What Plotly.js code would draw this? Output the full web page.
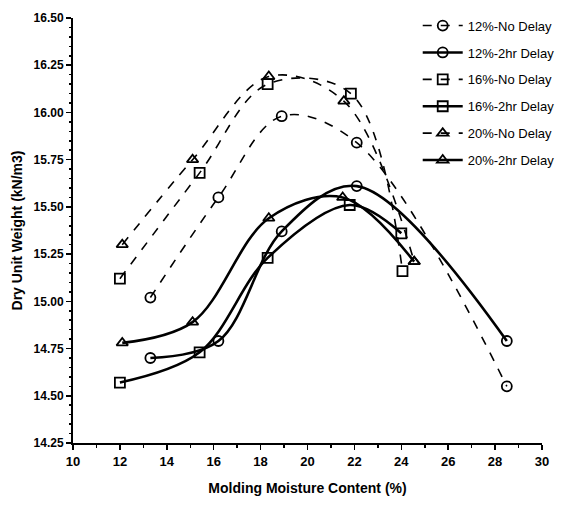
<!DOCTYPE html>
<html>
<head>
<meta charset="utf-8">
<script src="https://cdn.plot.ly/plotly-3.0.1.min.js"></script>
<style>html,body{margin:0;padding:0;background:#fff;}#chart{width:574px;height:505px;}</style>
</head>
<body>
<div id="chart"></div>
<script>
const seriesNames = ["12%-No Delay","12%-2hr Delay","16%-No Delay","16%-2hr Delay","20%-No Delay","20%-2hr Delay"];
const moist12 = [13.3, 16.2, 18.9, 22.1, 28.5];
const moist16 = [12.0, 15.4, 18.3, 21.85, 24.05];
const moist16d = [12.0, 15.4, 18.3, 21.8, 24.0];
const moist20 = [12.1, 15.1, 18.35, 21.55, 24.55];
const moist20d = [12.1, 15.1, 18.35, 21.5, 24.55];
const dry12NoDelay = [15.02, 15.55, 15.98, 15.84, 14.55];
const dry12Delay   = [14.70, 14.79, 15.37, 15.61, 14.79];
const dry16NoDelay = [15.12, 15.68, 16.15, 16.10, 15.16];
const dry16Delay   = [14.57, 14.73, 15.23, 15.51, 15.36];
const dry20NoDelay = [15.30, 15.75, 16.19, 16.06, 15.21];
const dry20Delay   = [14.78, 14.89, 15.44, 15.55, 15.21];
const xTicks = [10,12,14,16,18,20,22,24,26,28,30];
const yTicks = [14.25,14.50,14.75,15.00,15.25,15.50,15.75,16.00,16.25,16.50];

const xs = [moist12, moist12, moist16, moist16d, moist20, moist20d];
const ys = [dry12NoDelay, dry12Delay, dry16NoDelay, dry16Delay, dry20NoDelay, dry20Delay];
const symbols = ["circle-open","circle-open","square-open","square-open","triangle-up-open","triangle-up-open"];
const dashed = [true,false,true,false,true,false];

const traces = seriesNames.map((n,i)=>({
  x: xs[i], y: ys[i], name: n, legendgroup: 'g'+i, type: 'scatter', mode: 'lines+markers',
  line: {color: '#000', width: dashed[i] ? 1.6 : 2.6, dash: dashed[i] ? 'dash' : 'solid', shape: 'spline', smoothing: 1},
  marker: {symbol: symbols[i], size: 10, color: '#000', line: {color: '#000', width: 1.8}}
}));

const fontFam = "'Liberation Sans Narrow','Arial Narrow','Liberation Sans',Arial,sans-serif";
const layout = {
  width: 574, height: 505,
  margin: {l: 73, r: 32, t: 17, b: 62},
  paper_bgcolor: '#fff', plot_bgcolor: '#fff',
  font: {family: fontFam, color: '#000', size: 12},
  showlegend: true,
  legend: {x: 0.735, y: 1.015, xanchor: 'left', yanchor: 'top', bgcolor: 'rgba(0,0,0,0)',
           font: {family: "'Liberation Sans',Arial,sans-serif", size: 13, color: '#000'}, tracegroupgap: 7, itemwidth: 40},
  xaxis: {range: [10, 30], tickvals: xTicks, ticktext: xTicks.map(String), showgrid: false, zeroline: false,
          showline: true, linecolor: '#000', linewidth: 2, ticks: 'outside', ticklen: 5, tickwidth: 1.5, tickcolor: '#000',
          minor: {dtick: 1, ticks: 'outside', ticklen: 3, tickcolor: '#000', showgrid: false},
          tickfont: {family: fontFam, size: 13, color: '#000', weight: 'bold'},
          title: {text: 'Molding Moisture Content (%)', font: {family: fontFam, size: 14, color: '#000', weight: 'bold'}, standoff: 16}},
  yaxis: {range: [14.25, 16.5], tickvals: yTicks, ticktext: yTicks.map(v=>v.toFixed(2)), showgrid: false, zeroline: false,
          showline: true, linecolor: '#000', linewidth: 2, ticks: 'outside', ticklen: 5, tickwidth: 1.5, tickcolor: '#000',
          minor: {dtick: 0.05, ticks: 'outside', ticklen: 2, tickcolor: '#000', showgrid: false},
          tickfont: {family: fontFam, size: 12, color: '#000', weight: 'bold'},
          title: {text: 'Dry Unit Weight (kN/m3)', font: {family: fontFam, size: 14, color: '#000', weight: 'bold'}, standoff: 8}}
};
Plotly.newPlot('chart', traces, layout, {displayModeBar: false, staticPlot: true});
</script>
</body>
</html>
